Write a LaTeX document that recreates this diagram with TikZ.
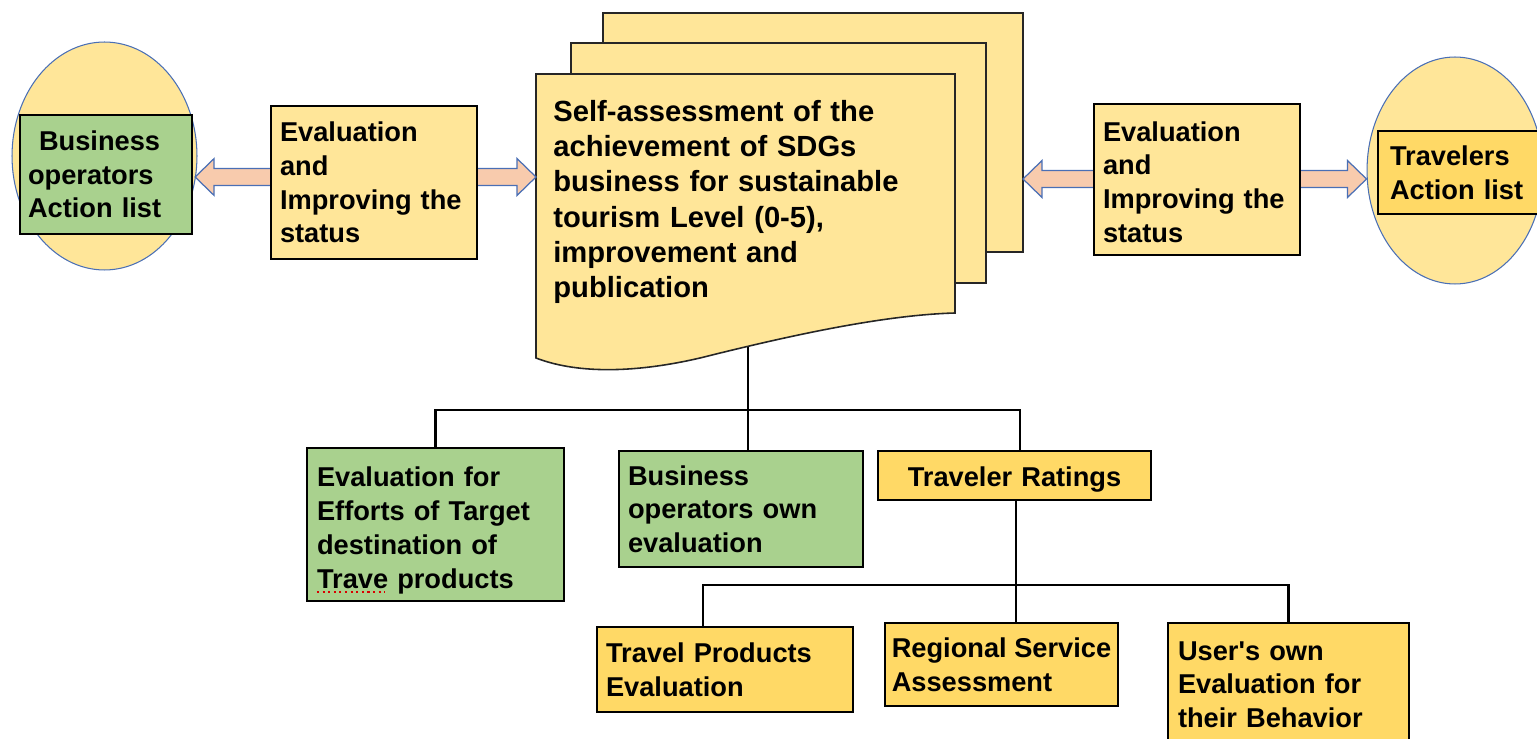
\documentclass[tikz,border=0pt]{standalone}
\usepackage{fontspec}
\setmainfont{Liberation Sans}
\usetikzlibrary{shapes.geometric,calc}

\definecolor{paleyellow}{HTML}{FFE699}
\definecolor{gold}{HTML}{FFD966}
\definecolor{leaf}{HTML}{A9D18E}
\definecolor{peach}{HTML}{F8CBAD}
\definecolor{steel}{HTML}{4A6FB5}

\pgfdeclarelayer{background}
\pgfsetlayers{background,main}

\tikzset{
  box/.style={rectangle, draw=black, line width=1.3pt, inner ysep=0pt,
    align=left, font=\bfseries\fontsize{15.5}{19.2}\selectfont},
  dims/.style n args={4}{minimum width=#1cm, minimum height=#2cm,
    inner xsep=#3cm, text width=#4cm},
  oval/.style={ellipse, draw=steel, line width=0.6pt, fill=paleyellow, inner sep=0pt},
  sheet/.style={draw=black!85, line width=0.9pt, fill=paleyellow},
  doctext/.style={inner sep=0pt, align=left, text width=7.4cm,
    font=\bfseries\fontsize{16.6}{20.1}\selectfont},
  wire/.style={draw=black, line width=1.3pt},
  fatarrow/.style={fill=peach, draw=steel, line width=0.7pt, line join=miter},
}

% horizontal block arrow from tail #1 to tip #2 (tail end left open)
\newcommand\blockarrow[2]{%
  \filldraw[fatarrow] let \p1=#1, \p2=#2,
      \n1={\x2-10.8*(\x2-\x1)/abs(\x2-\x1)} in
    (\x1,{\y2+4.8pt}) -- ({\n1*1pt},{\y2+4.8pt}) -- ({\n1*1pt},{\y2+10.5pt})
    -- (\x2,\y2) -- ({\n1*1pt},{\y2-10.5pt}) -- ({\n1*1pt},{\y2-4.8pt})
    -- (\x1,{\y2-4.8pt});}

\begin{document}
\begin{tikzpicture}[x=0.02cm, y=-0.02cm]
\useasboundingbox (0,0) rectangle (1537,739);
\clip (0,0) rectangle (1537,739);

% stacked document sheets
\path[sheet] (603,13) rectangle (1023,252);
\path[sheet] (571,43) rectangle (986,283);
\path[sheet] (536,74) -- (955,74) -- (955,313)
  .. controls (880,315) and (780,338) .. (700,358)
  .. controls (640,372) and (580,375) .. (536,358) -- cycle;
\node[doctext, anchor=west] (doctxt) at (553,202)
  {Self-assessment of the\\achievement of SDGs\\business for sustainable\\tourism Level (0-5),\\improvement and\\publication};
\coordinate (docL) at (536,177);
\coordinate (docR) at (1023,179);
\coordinate (docB) at (748,340);

% left side
\node[oval, minimum width=3.7cm, minimum height=4.56cm] (lell) at (104.5,156) {};
\node[box, fill=leaf, dims={3.44}{2.38}{0.16}{3.12}] (lact) at (106,174.5)
  {\hspace*{0.22cm}Business\\operators\\Action list};
\node[box, fill=paleyellow, dims={4.12}{3.06}{0.18}{3.76}] (leval) at (374,182.5)
  {Evaluation\\and\\Improving the\\status};

% right side
\node[oval, minimum width=3.52cm, minimum height=4.54cm] (rell) at (1455,170.5) {};
\node[box, fill=gold, dims={3.34}{1.66}{0.24}{2.86}] (ract) at (1461.5,172.5)
  {Travelers\\Action list};
\node[box, fill=paleyellow, dims={4.12}{3.02}{0.18}{3.76}] (reval) at (1197,179.5)
  {\rule{0pt}{14pt}Evaluation\\and\\Improving the\\status};

% first evaluation level
\node[box, fill=leaf, dims={5.14}{3.06}{0.2}{4.74}] (n1) at (435.5,524.5)
  {\rule{0pt}{18pt}Evaluation for\\Efforts of Target\\destination of\\Trave products};
\node[box, fill=leaf, dims={4.88}{2.32}{0.18}{4.52}] (n2) at (741,509)
  {Business\\operators own\\evaluation};
\node[box, fill=gold, align=center, dims={5.46}{0.98}{0.2}{5.06}] (n3) at (1014.5,475.5)
  {\rule{0pt}{15.8pt}Traveler Ratings};

% traveler rating breakdown
\node[box, fill=gold, dims={5.12}{1.70}{0.18}{4.76}] (m1) at (725,669.5)
  {Travel Products\\Evaluation};
\node[box, fill=gold, minimum width=4.66cm, minimum height=1.66cm, inner xsep=0.12cm]
  (m2) at (1001.5,664.5)
  {Regional Service\\Assessment};
\node[box, fill=gold, dims={4.82}{2.46}{0.2}{4.42}] (m3) at (1288.5,684.5)
  {User\textquotesingle s own\\Evaluation for\\their Behavior};

% spell-check mark under "Trave"
\draw[red!85!black, dotted, line width=1.2pt] ([shift={(11,-10)}]n1.south west) -- ++(68,0);

% tree connectors
\coordinate (bus1) at (748,410);
\coordinate (bus2) at (1016,585);
\begin{pgfonlayer}{background}
  \draw[wire] (docB) -- (bus1);
  \draw[wire] (n1.north) |- (bus1);
  \draw[wire] (bus1) -- (bus1 |- n2.north);
  \draw[wire] (bus1) -| ([xshift=0.11cm]n3.north);
  \draw[wire] (bus2 |- n3.south) -- (bus2);
  \draw[wire] ([xshift=-0.44cm]m1.north) |- (bus2);
  \draw[wire] (bus2) -- (bus2 |- m2.north);
  \draw[wire] (bus2) -| (m3.north);
\end{pgfonlayer}

% block arrows
\coordinate (ly) at (0,177);
\coordinate (ry) at (0,179);
\blockarrow{(leval.west |- ly)}{([xshift=0.04cm]lact.east |- ly)}
\blockarrow{(leval.east |- ly)}{(docL)}
\blockarrow{(reval.west |- ry)}{(docR)}
\blockarrow{(reval.east |- ry)}{(rell.west |- ry)}
\end{tikzpicture}
\end{document}
